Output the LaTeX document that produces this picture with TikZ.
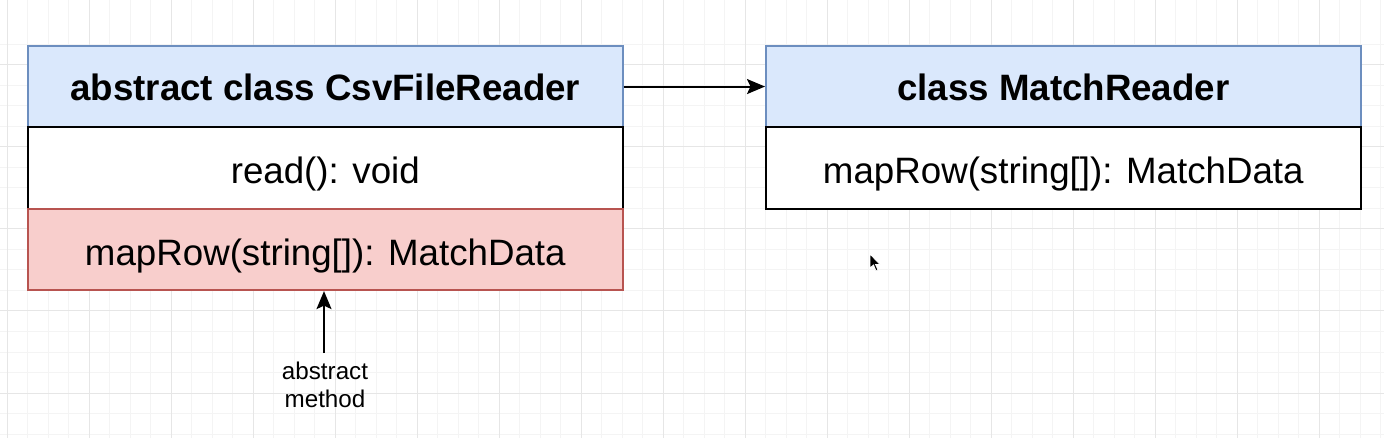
\documentclass[tikz,border=0pt]{standalone}
\usepackage{fontspec}
\setmainfont{Liberation Sans}
\usetikzlibrary{arrows.meta}
\definecolor{hdrfill}{HTML}{DAE8FC}
\definecolor{hdrline}{HTML}{6C8EBF}
\definecolor{absfill}{HTML}{F8CECC}
\definecolor{absline}{HTML}{B85450}
\definecolor{gridminor}{HTML}{F4F4F4}
\definecolor{gridmajor}{HTML}{E6E6E6}
\tikzset{
  cell/.style={rectangle, minimum width=595pt, minimum height=81.5pt, inner sep=0pt, anchor=north west, line width=1.6pt,
    font=\fontsize{36.7}{44}\selectfont},
  header/.style={cell, fill=hdrfill, draw=hdrline, font=\fontsize{36.7}{44}\selectfont\bfseries, text height=29pt, text depth=1pt},
  plainrow/.style={cell, fill=white, draw=black, text height=39pt, text depth=7.7pt},
  absrow/.style={cell, fill=absfill, draw=absline, text height=39pt, text depth=7.7pt},
  note/.style={align=center, inner sep=0pt, font=\fontsize{24.2}{28}\selectfont},
  conn/.style={line width=2pt, -{Stealth[length=18pt,width=15pt,inset=3.5pt]}}
}
\begin{document}
\begin{tikzpicture}[x=1pt,y=-1pt]
\useasboundingbox (0,0) rectangle (1384,438);
\fill[white] (0,0) rectangle (1384,438);
% grid
\foreach \i in {0,...,68} {
  \draw[gridminor, line width=1pt] ({7+20.5*\i},0) -- ({7+20.5*\i},438);
}
\foreach \j in {-1,...,21} {
  \draw[gridminor, line width=1pt] (0,{65+20.5*\j}) -- (1384,{65+20.5*\j});
}
\foreach \i in {0,...,17} {
  \draw[gridmajor, line width=1pt] ({7+82*\i},0) -- ({7+82*\i},438);
}
\foreach \j in {0,...,4} {
  \draw[gridmajor, line width=1pt] (0,{65+82*\j}) -- (1384,{65+82*\j});
}
% left class
\node[header]   (lh) at (27,45)  {abstract class CsvFileReader};
\node[plainrow] (lr) at (27,126.5) {read(): void};
\node[absrow]   (lm) at (27,208) {mapRow(string[]): MatchData};
% right class
\node[header]   (rh) at (765,45)  {class MatchReader};
\node[plainrow] (rm) at (765,126.5) {mapRow(string[]): MatchData};
% note
\node[note] (an) at (325,385) {abstract\\method};
\coordinate (anTop) at (324,353);
% connectors
\draw[conn] (lh.east) -- (rh.west);
\draw[conn] (anTop) -- (lm.south -| anTop);
% mouse cursor
\filldraw[fill=black, draw=white, line width=0.8pt]
  (870,254) -- (870,268) -- (873.5,265) -- (876,271) -- (878,270) -- (875.5,264.5) -- (880,264.5) -- cycle;
\end{tikzpicture}
\end{document}
